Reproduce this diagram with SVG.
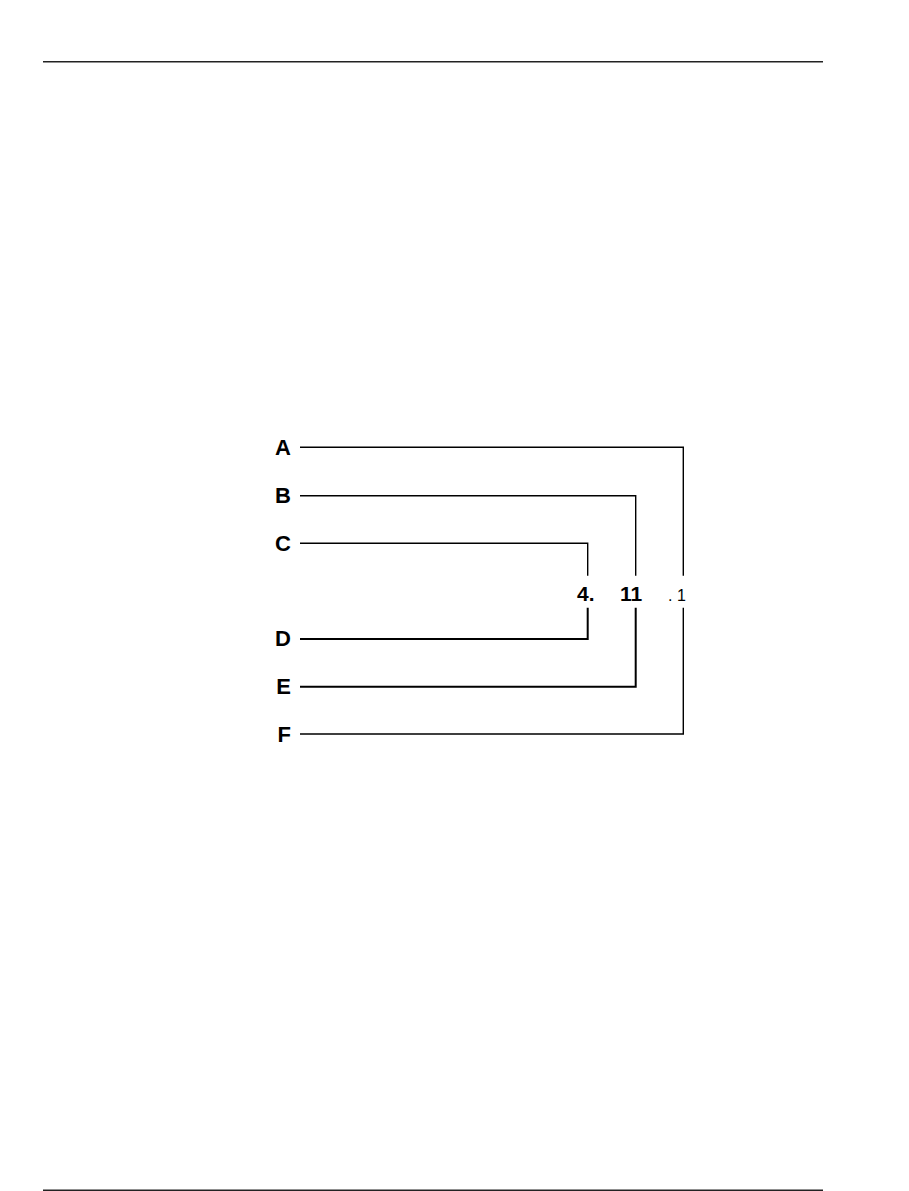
<svg xmlns="http://www.w3.org/2000/svg" width="909" height="1191" viewBox="0 0 909 1191">
<style>
.lbl{font-family:"Liberation Sans",Arial,sans-serif;font-weight:bold;font-size:22px;fill:#000;text-anchor:end}
.num{font-family:"Liberation Sans",Arial,sans-serif;font-weight:bold;font-size:21px;fill:#000}
.num2{font-family:"Liberation Sans",Arial,sans-serif;font-size:16px;fill:#000}
.ln{fill:none;stroke:#000;stroke-width:1.4}
.lnb{fill:none;stroke:#000;stroke-width:2}
.rule{stroke:#222;stroke-width:1.6}
</style>
<rect width="909" height="1191" fill="#fff"/>
<line class="rule" x1="43" y1="61.8" x2="823" y2="61.8"/>
<line class="rule" x1="43" y1="1190.3" x2="823" y2="1190.3"/>
<g id="connectors">
<polyline class="ln" points="300,447.3 683.3,447.3 683.3,575.7"/>
<polyline class="ln" points="300,495.7 635.7,495.7 635.7,575.7"/>
<polyline class="ln" points="300,543.3 587.7,543.3 587.7,575.7"/>
<polyline class="lnb" points="300,639 587.7,639 587.7,607.7"/>
<polyline class="lnb" points="300,686.7 635.7,686.7 635.7,607.7"/>
<polyline class="ln" points="300,734 683.3,734 683.3,607.7"/>
</g>
<g id="A"><text class="lbl" x="291" y="455">A</text></g>
<g id="B"><text class="lbl" x="291" y="503">B</text></g>
<g id="C"><text class="lbl" x="291" y="551">C</text></g>
<g id="D"><text class="lbl" x="291" y="646">D</text></g>
<g id="E"><text class="lbl" x="291" y="694">E</text></g>
<g id="F"><text class="lbl" x="291" y="742">F</text></g>
<g id="n1"><text class="num" x="577" y="601">4.</text></g>
<g id="n2"><text class="num" x="620" y="601">11</text></g>
<g id="n3"><text class="num2" x="668" y="601">. 1</text></g>
</svg>
